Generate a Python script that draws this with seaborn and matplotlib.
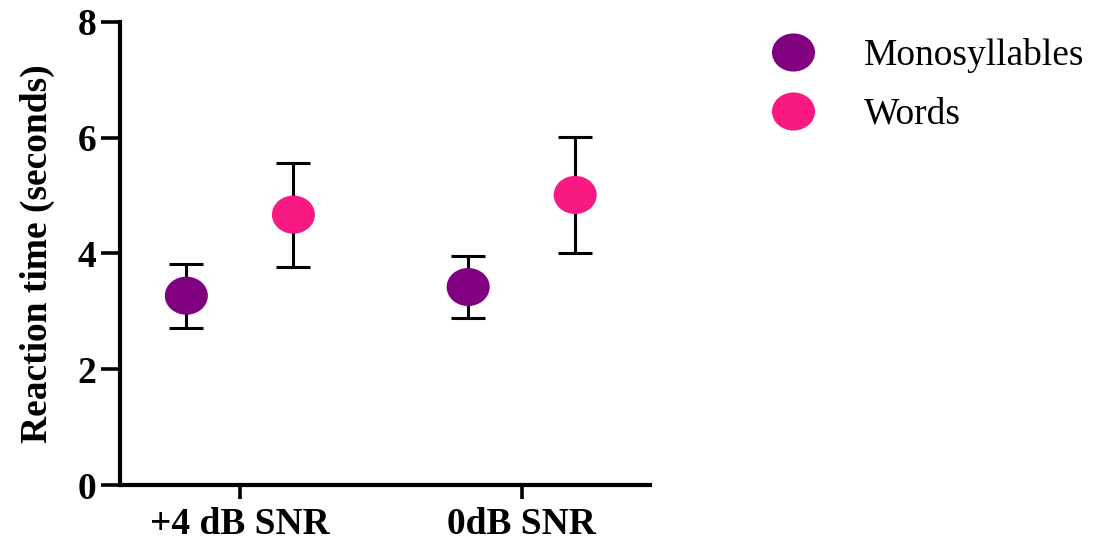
import numpy as np
import pandas as pd
import matplotlib
matplotlib.use("Agg")
import matplotlib.pyplot as plt
from matplotlib.path import Path
from matplotlib.lines import Line2D
import seaborn as sns

conditions = ["+4 dB SNR", "0dB SNR"]
series = ["Monosyllables", "Words"]
mono_mean = [3.27, 3.42]
mono_sd = [0.55, 0.53]
words_mean = [4.67, 5.01]
words_sd = [0.90, 1.00]
colors = {"Monosyllables": "#800080", "Words": "#F81A82"}
y_ticks = [0, 2, 4, 6, 8]

sns.set_theme(style="ticks")
plt.rcParams["font.family"] = ["Liberation Serif", "DejaVu Serif"]
for k in ["text.color", "axes.labelcolor", "xtick.color", "ytick.color", "axes.edgecolor"]:
    plt.rcParams[k] = "black"

rows = []
for i, c in enumerate(conditions):
    rows.append({"cond": c, "idx": i, "group": "Monosyllables", "mean": mono_mean[i], "sd": mono_sd[i]})
    rows.append({"cond": c, "idx": i, "group": "Words", "mean": words_mean[i], "sd": words_sd[i]})
df = pd.DataFrame(rows)
offset = {"Monosyllables": -0.19, "Words": 0.19}
df["x"] = df["idx"] + df["group"].map(offset)

# slightly wide ellipse marker
circ = Path.unit_circle()
ell = Path(circ.vertices * np.array([1.13, 1.0]), circ.codes)

fig = plt.figure(figsize=(11.2, 5.45), dpi=100)
ax = fig.add_axes([0.107, 0.110, 0.473, 0.850])

ax.errorbar(df["x"], df["mean"], yerr=df["sd"], fmt="none", ecolor="black",
            elinewidth=2.2, capsize=12, capthick=2.2, zorder=1)
sns.scatterplot(data=df, x="x", y="mean", hue="group", palette=colors,
                marker=ell, s=960, edgecolor="none", linewidth=0, ax=ax,
                legend=False, zorder=3)

ax.set_xlim(-0.426, 1.454)
ax.set_ylim(0, 8)
ax.set_yticks(y_ticks)
ax.set_yticklabels([str(t) for t in y_ticks], fontsize=27, fontweight="bold")
ax.set_xticks(range(len(conditions)))
ax.set_xticklabels(conditions, fontsize=27, fontweight="bold")
ax.set_xlabel("")
ax.set_ylabel("Reaction time (seconds)", fontsize=27, fontweight="bold", labelpad=16)

for s in ["top", "right"]:
    ax.spines[s].set_visible(False)
for s in ["left", "bottom"]:
    ax.spines[s].set_linewidth(3)
    ax.spines[s].set_color("black")
ax.spines["left"].set_bounds(0, 8)
ax.tick_params(axis="y", length=14, width=2.6, color="black", pad=3)
ax.tick_params(axis="x", length=10, width=2.6, color="black", pad=6)
ax.grid(False)

handles = [Line2D([0], [0], marker=ell, color="none", markerfacecolor=colors[g],
                  markeredgecolor="none", markersize=31, linestyle="none") for g in series]
leg = fig.legend(handles, series, loc="upper left", bbox_to_anchor=(0.661, 0.958),
                 frameon=False, fontsize=27, handletextpad=0.9, labelspacing=0.65,
                 borderaxespad=0)

fig.savefig("out.png", dpi=100)
